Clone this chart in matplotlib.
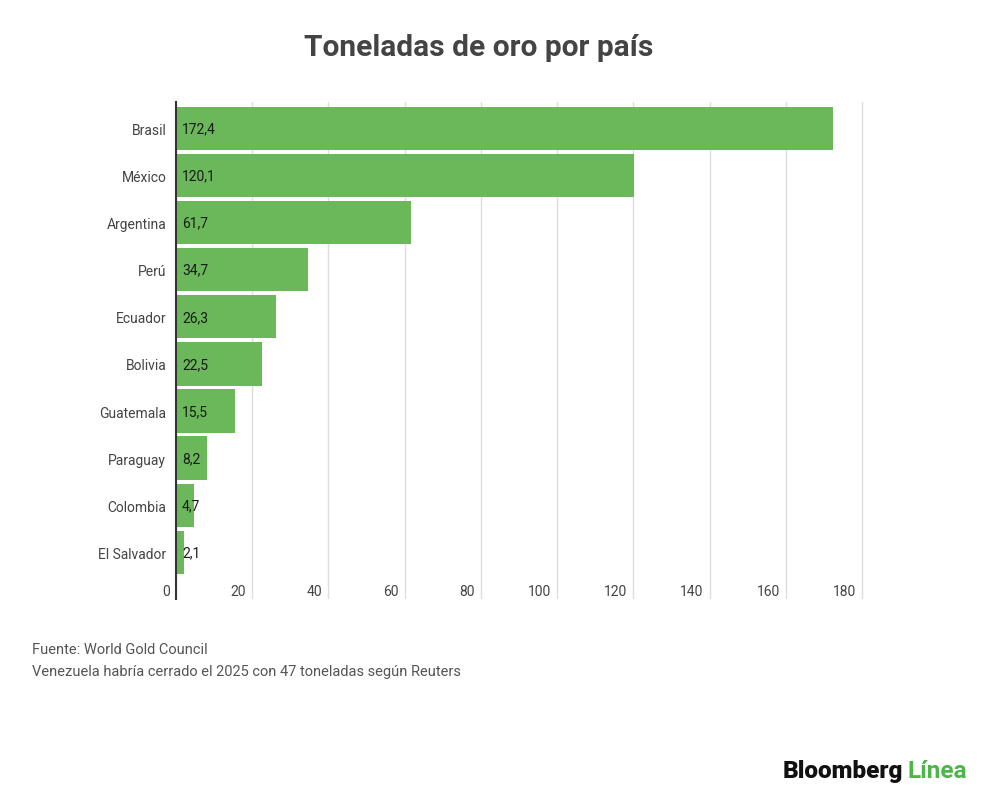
import matplotlib
matplotlib.use("Agg")
import matplotlib.pyplot as plt
import matplotlib.transforms as mtransforms

countries = ["Brasil", "México", "Argentina", "Perú", "Ecuador", "Bolivia",
             "Guatemala", "Paraguay", "Colombia", "El Salvador"]
values = [172.4, 120.1, 61.7, 34.7, 26.3, 22.5, 15.5, 8.2, 4.7, 2.1]
value_labels = ["172,4", "120,1", "61,7", "34,7", "26,3", "22,5", "15,5", "8,2", "4,7", "2,1"]
xticks = [0, 20, 40, 60, 80, 100, 120, 140, 160, 180]

plt.rcParams['font.family'] = ['Roboto', 'DejaVu Sans']

W, H = 1000, 803
fig = plt.figure(figsize=(W / 100, H / 100), dpi=100)
fig.patch.set_facecolor("white")

left, right, top, bottom = 176, 864, 103, 600
ax = fig.add_axes([left / W, 1 - bottom / H, (right - left) / W, (bottom - top) / H])

pos = list(range(len(countries)))
ax.barh(pos, values, height=0.92, color="#6BB85A", zorder=2)
ax.set_xlim(0, 180.5)
ax.set_ylim(9.99, -0.56)

ax.set_yticks(pos)
ax.set_yticklabels(countries, fontsize=10, color="#444444")
ax.tick_params(axis="y", length=0, pad=7)
ax.set_xticks(xticks)
ax.tick_params(axis="x", length=0, labelbottom=False)
ax.grid(axis="x", color="#dddddd", linewidth=1, zorder=0)
ax.grid(axis="y", visible=False)

for s in ["top", "right", "bottom"]:
    ax.spines[s].set_visible(False)
ax.spines["left"].set_color("#333333")
ax.spines["left"].set_linewidth(1.5)
ax.spines["left"].set_zorder(3)

# x tick labels placed inside, left of gridlines
trans = mtransforms.blended_transform_factory(ax.transData, ax.transAxes)
off = mtransforms.ScaledTranslation(-6 / 100, 0, fig.dpi_scale_trans)
for t in xticks:
    ax.text(t, 0.017, str(t), transform=trans + off, ha="right", va="center",
            fontsize=10, color="#444444")

# value labels
offv = mtransforms.ScaledTranslation(6 / 100, 0, fig.dpi_scale_trans)
for p, lab in zip(pos, value_labels):
    ax.text(0, p, lab, transform=ax.transData + offv, ha="left", va="center",
            fontsize=10, color="#1a1a1a", zorder=4)

fig.text(479 / W, 1 - 48 / H, "Toneladas de oro por país", ha="center", va="center",
         fontsize=21.5, fontweight="bold", color="#444444")

fig.text(32 / W, 1 - 650 / H, "Fuente: World Gold Council", ha="left", va="center",
         fontsize=10.5, color="#555555")
fig.text(32 / W, 1 - 672 / H, "Venezuela habría cerrado el 2025 con 47 toneladas según Reuters",
         ha="left", va="center", fontsize=10.5, color="#555555")

fig.text(903 / W, 1 - 772 / H, "Bloomberg", ha="right", va="center",
         fontsize=17.5, fontweight="black", color="#111111")
fig.text(967 / W, 1 - 772 / H, "Línea", ha="right", va="center",
         fontsize=17.5, fontweight="bold", color="#4CB648")

fig.savefig("out.png", dpi=100, facecolor="white")
